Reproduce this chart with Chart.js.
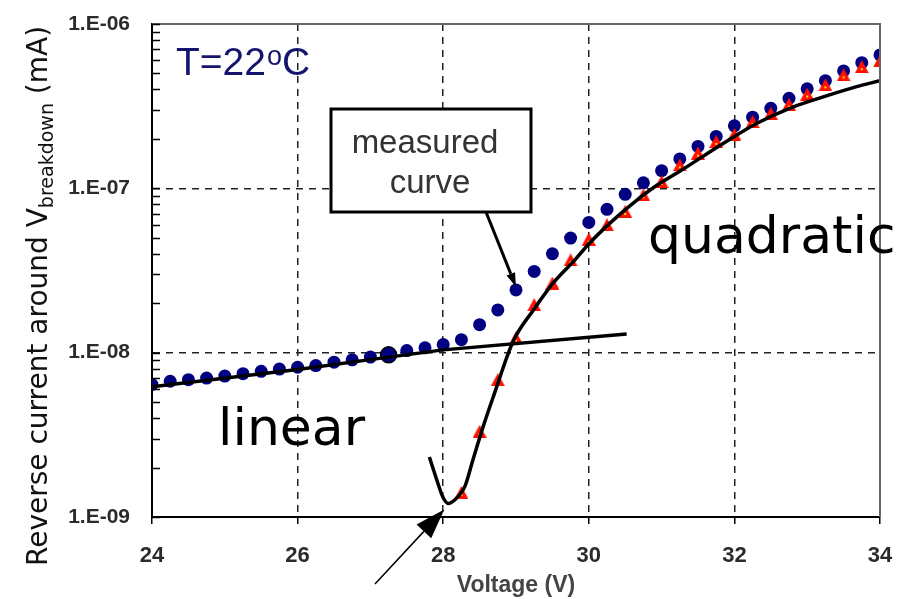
<!DOCTYPE html>
<html>
<head>
<meta charset="utf-8">
<script src="https://cdn.jsdelivr.net/npm/chart.js@4/dist/chart.umd.min.js"></script>
<style>
  html, body { margin: 0; padding: 0; background: #fff; }
  #wrap { width: 899px; height: 599px; }
</style>
</head>
<body>
<div id="wrap"><canvas id="chart" width="899" height="599"></canvas></div>
<script>
// measured points, every 0.25 V from 24 to 34
const voltages = [24, 24.25, 24.5, 24.75, 25, 25.25, 25.5, 25.75, 26, 26.25, 26.5, 26.75, 27, 27.25, 27.5, 27.75,
  28, 28.25, 28.5, 28.75, 29, 29.25, 29.5, 29.75, 30, 30.25, 30.5, 30.75, 31, 31.25, 31.5, 31.75,
  32, 32.25, 32.5, 32.75, 33, 33.25, 33.5, 33.75, 34];
const measured = [6.4e-9, 6.7e-9, 6.85e-9, 7.0e-9, 7.2e-9, 7.45e-9, 7.7e-9, 7.95e-9, 8.15e-9, 8.35e-9, 8.75e-9, 9.05e-9,
  9.4e-9, 9.7e-9, 1.03e-8, 1.07e-8, 1.12e-8, 1.2e-8, 1.48e-8, 1.82e-8, 2.41e-8, 3.12e-8, 4.0e-8, 4.98e-8,
  6.2e-8, 7.45e-8, 9.2e-8, 1.08e-7, 1.28e-7, 1.51e-7, 1.8e-7, 2.07e-7, 2.4e-7, 2.71e-7, 3.07e-7, 3.53e-7,
  4.03e-7, 4.52e-7, 5.18e-7, 5.82e-7, 6.48e-7];

// measured minus linear part (red triangles)
const subVoltages = [28.25, 28.5, 28.75, 29, 29.25, 29.5, 29.75, 30, 30.25, 30.5, 30.75, 31, 31.25, 31.5, 31.75,
  32, 32.25, 32.5, 32.75, 33, 33.25, 33.5, 33.75, 34];
const subtracted = [1.41e-9, 3.32e-9, 6.85e-9, 1.23e-8, 1.96e-8, 2.65e-8, 3.67e-8, 4.91e-8, 6.0e-8, 7.23e-8, 9.12e-8,
  1.1e-7, 1.39e-7, 1.64e-7, 1.93e-7, 2.13e-7, 2.55e-7, 2.86e-7, 3.25e-7, 3.75e-7, 4.26e-7, 4.9e-7, 5.5e-7, 5.96e-7];

// fits
const linVoltages = [24, 26, 27.1, 28, 30.52];
const linFit = [6.2e-9, 7.9e-9, 9.2e-9, 1.04e-8, 1.3e-8];
const quadVoltages = [27.81, 27.91, 28, 28.07, 28.21, 28.3, 28.41, 28.55, 28.69, 28.96, 29.24, 29.51, 29.81, 29.99,
  30.29, 30.61, 30.93, 31.25, 31.85, 32.31, 32.76, 33.22, 33.68, 34];
const quadFit = [2.32e-9, 1.69e-9, 1.31e-9, 1.21e-9, 1.34e-9, 1.54e-9, 2.24e-9, 3.56e-9, 5.42e-9, 1.17e-8, 1.82e-8,
  2.65e-8, 3.67e-8, 4.54e-8, 6.14e-8, 8.13e-8, 1.04e-7, 1.27e-7, 1.88e-7, 2.49e-7, 3.07e-7, 3.6e-7, 4.16e-7, 4.52e-7];

const xTicks = [24, 26, 28, 30, 32, 34];
const yDecades = [-9, -8, -7, -6];
const bigDotAt = 27.25; // end of the linear region

const pts = (xs, ys) => xs.map((x, i) => ({ x, y: ys[i] }));
const isDecade = (v) => Math.abs(Math.log10(v) - Math.round(Math.log10(v))) < 1e-6;
const SANS = "'Liberation Sans', Arial, sans-serif";
const DEJAVU = "'DejaVu Sans', sans-serif";

// red triangle marker with a small yellow centre
const tri = document.createElement('canvas');
tri.width = 14; tri.height = 13;
{
  const c = tri.getContext('2d');
  c.fillStyle = '#ff1000';
  c.beginPath(); c.moveTo(7, 0); c.lineTo(14, 13); c.lineTo(0, 13); c.closePath(); c.fill();
  c.fillStyle = '#ffe000';
  c.fillRect(6, 8, 2, 2);
}

function arrow(ctx, x1, y1, x2, y2, lw, headLen, headW) {
  const a = Math.atan2(y2 - y1, x2 - x1);
  const bx = x2 - Math.cos(a) * headLen, by = y2 - Math.sin(a) * headLen;
  ctx.lineWidth = lw;
  ctx.beginPath(); ctx.moveTo(x1, y1); ctx.lineTo(bx, by); ctx.stroke();
  ctx.beginPath();
  ctx.moveTo(x2, y2);
  ctx.lineTo(bx + Math.sin(a) * headW / 2, by - Math.cos(a) * headW / 2);
  ctx.lineTo(bx - Math.sin(a) * headW / 2, by + Math.cos(a) * headW / 2);
  ctx.closePath(); ctx.fill();
}

const decorations = {
  id: 'decorations',
  afterDatasetsDraw(chart) {
    const { ctx, chartArea: ca, scales: { x, y } } = chart;
    ctx.save();

    // frame top/right
    ctx.strokeStyle = '#666'; ctx.lineWidth = 2;
    ctx.beginPath(); ctx.moveTo(ca.left, ca.top); ctx.lineTo(ca.right, ca.top); ctx.lineTo(ca.right, ca.bottom); ctx.stroke();

    // inward log ticks on the y axis
    ctx.strokeStyle = '#000'; ctx.lineWidth = 1.5;
    for (const d of yDecades) {
      for (let m = 1; m <= 9; m++) {
        const v = m * Math.pow(10, d);
        if (v > 1e-6 * 1.0001) break;
        const py = Math.round(y.getPixelForValue(v)) + 0.5;
        ctx.beginPath(); ctx.moveTo(ca.left, py); ctx.lineTo(ca.left + 8, py); ctx.stroke();
      }
    }

    // T=22°C
    ctx.fillStyle = '#14146e'; ctx.textBaseline = 'alphabetic'; ctx.textAlign = 'left';
    ctx.font = `39px ${SANS}`;
    let tx = 176;
    ctx.fillText('T=22', tx, 75); tx += ctx.measureText('T=22').width;
    ctx.font = `27px ${SANS}`;
    ctx.fillText('o', tx + 1, 65); tx += ctx.measureText('o').width + 1;
    ctx.font = `39px ${SANS}`;
    ctx.fillText('C', tx, 75);

    // measured curve box
    ctx.fillStyle = '#fff'; ctx.fillRect(331, 109, 200, 103);
    ctx.strokeStyle = '#000'; ctx.lineWidth = 3;
    ctx.strokeRect(331, 109, 200, 103);
    ctx.fillStyle = '#333'; ctx.textAlign = 'center';
    ctx.font = `33px ${SANS}`;
    ctx.fillText('measured', 425, 153);
    ctx.fillText('curve', 430, 193);

    // arrow from box to the measured point at 29 V
    const i29 = voltages.indexOf(29);
    const ax = x.getPixelForValue(29), ay = y.getPixelForValue(measured[i29]) - 3;
    ctx.fillStyle = '#000'; ctx.strokeStyle = '#000';
    arrow(ctx, 486, 212, ax, ay, 3, 14, 9);

    // arrow pointing at the minimum of the quadratic fit
    const iMin = quadFit.indexOf(Math.min(...quadFit));
    arrow(ctx, 375, 584, x.getPixelForValue(quadVoltages[iMin]) - 4, y.getPixelForValue(quadFit[iMin]) + 6, 1.5, 30, 20);

    // labels
    ctx.fillStyle = '#000'; ctx.textAlign = 'left';
    ctx.font = `52px ${DEJAVU}`;
    ctx.fillText('quadratic', 648, 253);
    ctx.fillText('linear', 218, 445);

    // y axis title with subscript
    ctx.translate(47, 566);
    ctx.rotate(-Math.PI / 2);
    ctx.fillStyle = '#111';
    ctx.font = `28px ${DEJAVU}`;
    let sx = 0;
    ctx.fillText('Reverse current around V', sx, 0); sx += ctx.measureText('Reverse current around V').width;
    ctx.font = `19px ${DEJAVU}`;
    ctx.fillText('breakdown', sx, 6); sx += ctx.measureText('breakdown').width;
    ctx.font = `28px ${DEJAVU}`;
    ctx.fillText(' (mA)', sx, 0);
    ctx.restore();
  }
};

const ctx = document.getElementById('chart');
new Chart(ctx, {
  type: 'line',
  data: {
    datasets: [
      {
        label: 'quadratic fit',
        data: pts(quadVoltages, quadFit),
        borderColor: '#000', borderWidth: 3.5, pointRadius: 0,
        cubicInterpolationMode: 'monotone', order: 1,
      },
      {
        label: 'linear fit',
        data: pts(linVoltages, linFit),
        borderColor: '#000', borderWidth: 3.5, pointRadius: 0, order: 2,
      },
      {
        label: 'subtracted',
        data: pts(subVoltages, subtracted),
        showLine: false, pointStyle: tri, order: 3,
      },
      {
        label: 'measured',
        data: pts(voltages, measured),
        showLine: false, pointStyle: 'circle',
        pointRadius: voltages.map((v) => (v === bigDotAt ? 8 : 6.5)),
        backgroundColor: '#000080',
        borderColor: voltages.map((v) => (v === bigDotAt ? '#000' : '#000080')),
        borderWidth: voltages.map((v) => (v === bigDotAt ? 1.5 : 0)),
        order: 4,
      },
    ],
  },
  options: {
    responsive: false,
    animation: false,
    devicePixelRatio: 1,
    layout: { padding: { top: 24, right: 19, left: 0, bottom: 0 } },
    plugins: { legend: { display: false }, tooltip: { enabled: false } },
    scales: {
      x: {
        type: 'linear', min: 24, max: 34,
        afterBuildTicks: (s) => { s.ticks = xTicks.map((value) => ({ value })); },
        afterFit: (s) => { s.height = 82; s.paddingLeft = 0; s.paddingRight = 0; },
        ticks: { color: '#2b2b2b', font: { family: SANS, size: 22, weight: 'bold' }, padding: 19, maxRotation: 0 },
        grid: {
          color: (c) => (c.tick && c.tick.value > 24 && c.tick.value < 34 ? '#222' : 'transparent'),
          lineWidth: 1.5, tickColor: '#000', tickLength: 7, tickWidth: 1.5,
        },
        border: { color: '#000', width: 2, dash: [7, 6] },
        title: { display: true, text: 'Voltage (V)', color: '#444', font: { family: SANS, size: 23, weight: 'bold' }, padding: { top: 0, bottom: 0 } },
      },
      y: {
        type: 'logarithmic', min: 1e-9, max: 1e-6,
        afterFit: (s) => { s.width = 152; s.paddingTop = 0; s.paddingBottom = 0; },
        ticks: {
          autoSkip: false, color: '#2b2b2b', padding: 22,
          font: { family: SANS, size: 21, weight: 'bold' },
          callback: (v) => (isDecade(v) ? '1.E-0' + Math.abs(Math.round(Math.log10(v))) : ''),
        },
        grid: {
          color: (c) => (c.tick && isDecade(c.tick.value) && c.tick.value > 1.5e-9 && c.tick.value < 0.7e-6 ? '#222' : 'transparent'),
          lineWidth: 1.5, drawTicks: false,
        },
        border: { color: '#000', width: 2, dash: [7, 6] },
      },
    },
  },
  plugins: [decorations],
});
</script>
</body>
</html>
